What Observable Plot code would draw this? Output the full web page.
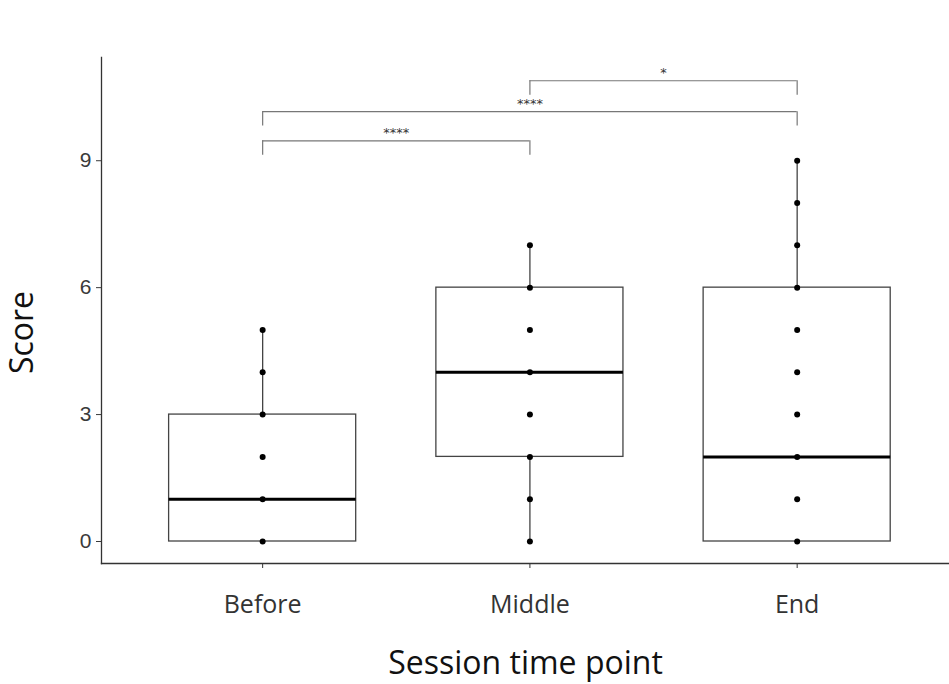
<!DOCTYPE html>
<html>
<head>
<meta charset="utf-8">
<script src="https://cdn.jsdelivr.net/npm/d3@7"></script>
<script src="https://cdn.jsdelivr.net/npm/@observablehq/plot@0.6"></script>
<style>
  html, body { margin: 0; padding: 0; background: #fff; }
  #chart svg { display: block; }
</style>
</head>
<body>
<div id="chart"></div>
<script>
// ---- data ----
const sessions = ["Before", "Middle", "End"];
const beforeScores = [0, 1, 2, 3, 4, 5];
const middleScores = [0, 1, 2, 3, 4, 5, 6, 7];
const endScores = [0, 1, 2, 3, 4, 5, 6, 7, 8, 9];
const q1 = [0, 2, 0];
const medians = [1, 4, 2];
const q3 = [3, 6, 6];
const whiskerLow = [0, 0, 0];
const whiskerHigh = [5, 7, 9];
const yTicks = [0, 3, 6, 9];
const compFrom = ["Before", "Before", "Middle"];
const compTo = ["Middle", "End", "End"];
const compLabels = ["****", "****", "*"];
const compHeights = [9.47, 10.16, 10.89];
const xTitle = "Session time point";
const yTitle = "Score";

// ---- derived tables ----
const idx = s => sessions.indexOf(s) + 1;
const scoreSets = [beforeScores, middleScores, endScores];
const points = scoreSets.flatMap((arr, i) => arr.map(v => ({x: i + 1, y: v})));
const boxes = sessions.map((s, i) => ({
  x: i + 1, q1: q1[i], med: medians[i], q3: q3[i], lo: whiskerLow[i], hi: whiskerHigh[i]
}));
const halfW = 0.35;
const armDrop = 0.34;
const comps = compLabels.map((l, i) => ({
  a: idx(compFrom[i]), b: idx(compTo[i]), h: compHeights[i], label: l
}));
const arms = comps.flatMap(c => [{x: c.a, y1: c.h, y2: c.h - armDrop}, {x: c.b, y1: c.h, y2: c.h - armDrop}]);

const chart = Plot.plot({
  width: 949,
  height: 684,
  marginLeft: 101,
  marginRight: 0,
  marginTop: 57,
  marginBottom: 121,
  style: {background: "#fff", overflow: "visible"},
  x: {domain: [0.397, 3.57], axis: null},
  y: {domain: [-0.52, 11.44], axis: null},
  marks: [
    // whiskers
    Plot.ruleX(boxes, {x: "x", y1: "lo", y2: "q1", stroke: "#444", strokeWidth: 1.3}),
    Plot.ruleX(boxes, {x: "x", y1: "q3", y2: "hi", stroke: "#444", strokeWidth: 1.3}),
    // boxes
    Plot.rect(boxes, {x1: d => d.x - halfW, x2: d => d.x + halfW, y1: "q1", y2: "q3", fill: "white", stroke: "#444", strokeWidth: 1.3}),
    // medians
    Plot.ruleY(boxes, {x1: d => d.x - halfW, x2: d => d.x + halfW, y: "med", stroke: "#000", strokeWidth: 3}),
    // points
    Plot.dot(points, {x: "x", y: "y", r: 3, fill: "#000", stroke: null}),
    // significance brackets
    Plot.ruleY(comps, {x1: "a", x2: "b", y: "h", stroke: "#777", strokeWidth: 1.2}),
    Plot.ruleX(arms, {x: "x", y1: "y1", y2: "y2", stroke: "#777", strokeWidth: 1.2}),
    Plot.text(comps, {x: d => (d.a + d.b) / 2, y: "h", text: "label", dy: -8, fontSize: 13, fill: "#333", fontFamily: "DejaVu Sans"}),
    // axes
    Plot.axisY({ticks: yTicks, tickSize: 5, tickPadding: 5, fontSize: 21, fontFamily: "Liberation Sans", color: "#3a3a3a", label: null}),
    Plot.axisX({ticks: [1, 2, 3], tickFormat: i => sessions[i - 1], tickSize: 5, tickPadding: 27, fontSize: 25,
      fontFamily: "Open Sans", color: "#333", label: null}),
    // axis titles
    Plot.text([xTitle], {frameAnchor: "bottom", text: d => d, dy: 100, lineAnchor: "middle", textAnchor: "middle",
      fontSize: 32, fontFamily: "Open Sans", fill: "#111"}),
    Plot.text([yTitle], {frameAnchor: "left", text: d => d, rotate: -90, dx: -79, dy: 22, lineAnchor: "middle", textAnchor: "middle",
      fontSize: 32, fontFamily: "Open Sans", fill: "#111"}),
    Plot.frame({anchor: "left", stroke: "#333", strokeWidth: 1.3}),
    Plot.frame({anchor: "bottom", stroke: "#333", strokeWidth: 1.3})
  ]
});

document.getElementById("chart").appendChild(chart);
</script>
</body>
</html>
